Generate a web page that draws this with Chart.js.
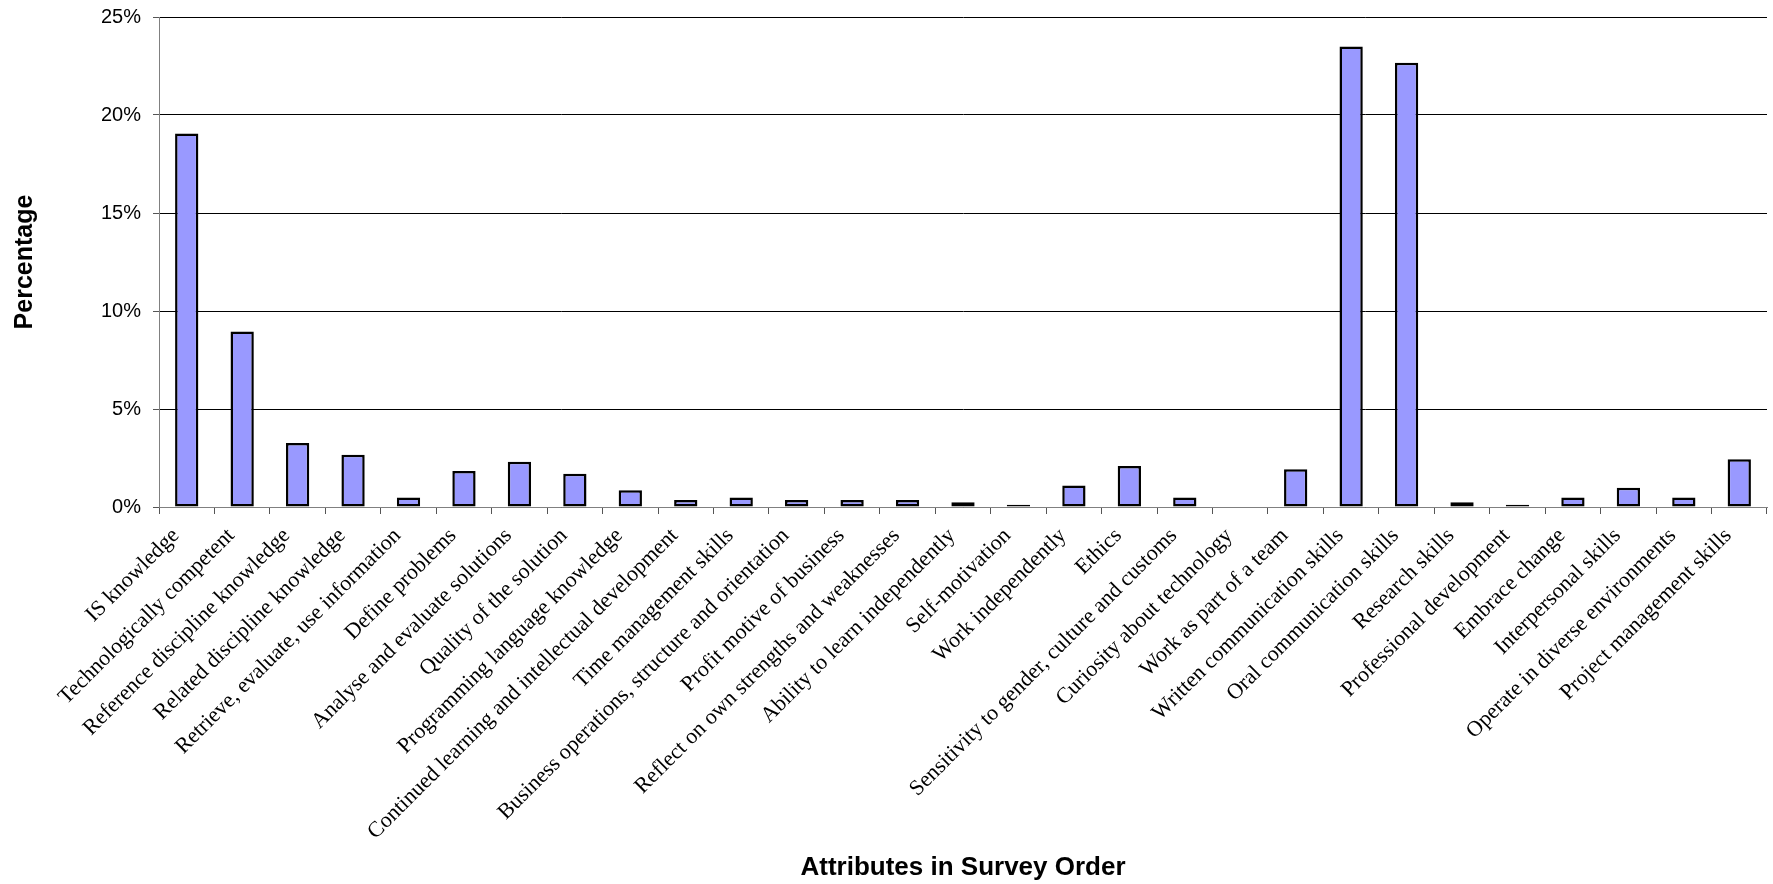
<!DOCTYPE html>
<html>
<head>
<meta charset="utf-8">
<title>Attributes in Survey Order</title>
<script src="https://cdn.jsdelivr.net/npm/chart.js@4/dist/chart.umd.min.js"></script>
<style>
  html, body { margin: 0; padding: 0; background: #ffffff; }
  #wrap { width: 1773px; height: 884px; position: relative; }
</style>
</head>
<body>
<div id="wrap"><canvas id="chart" width="1773" height="884"></canvas></div>
<script>
// Survey attributes, in the order they appear in the survey
const attributes = [
  'IS knowledge',
  'Technologically competent',
  'Reference discipline knowledge',
  'Related discipline knowledge',
  'Retrieve, evaluate, use information',
  'Define problems',
  'Analyse and evaluate solutions',
  'Quality of the solution',
  'Programming language knowledge',
  'Continued learning and intellectual development',
  'Time management skills',
  'Business operations, structure and orientation',
  'Profit motive of business',
  'Reflect on own strengths and weaknesses',
  'Ability to learn independently',
  'Self-motivation',
  'Work independently',
  'Ethics',
  'Sensitivity to gender, culture and customs',
  'Curiosity about technology',
  'Work as part of a team',
  'Written communication skills',
  'Oral communication skills',
  'Research skills',
  'Professional development',
  'Embrace change',
  'Interpersonal skills',
  'Operate in diverse environments',
  'Project management skills'
];

// Share of responses per attribute (%)
const percentages = [
  19.05, 8.96, 3.27, 2.67, 0.48, 1.84, 2.31, 1.70, 0.85, 0.36,
  0.48, 0.36, 0.36, 0.36, 0.24, 0.12, 1.10, 2.09, 0.48, 0.00,
  1.93, 23.50, 22.67, 0.24, 0.12, 0.48, 0.98, 0.48, 2.43
];

// Y axis tick values (%)
const yTicks = [0, 5, 10, 15, 20, 25];

const yTitle = 'Percentage';
const xTitle = 'Attributes in Survey Order';

// Draws the two axis titles
const axisTitles = {
  id: 'axisTitles',
  afterDraw(chart) {
    const { ctx, chartArea } = chart;
    ctx.save();
    ctx.fillStyle = '#000000';
    ctx.textAlign = 'center';
    ctx.textBaseline = 'middle';

    ctx.font = 'bold 25px "Liberation Sans", Arial, sans-serif';
    ctx.translate(25, (chartArea.top + chartArea.bottom) / 2);
    ctx.rotate(-Math.PI / 2);
    ctx.fillText(yTitle, 0, 0);
    ctx.setTransform(1, 0, 0, 1, 0, 0);

    ctx.font = 'bold 26px "Liberation Sans", Arial, sans-serif';
    const cx = (chartArea.left + chartArea.right) / 2;
    ctx.fillText(xTitle, cx, chart.height - 16);
    ctx.restore();
  }
};

new Chart(document.getElementById('chart'), {
  type: 'bar',
  data: {
    labels: attributes,
    datasets: [{
      data: percentages,
      backgroundColor: '#9999ff',
      borderColor: '#000000',
      borderWidth: 2.5,
      borderSkipped: false,
      categoryPercentage: 1.0,
      barPercentage: 0.42
    }]
  },
  options: {
    responsive: false,
    animation: false,
    devicePixelRatio: 1,
    layout: { padding: { top: 17, right: 6, left: 0, bottom: 0 } },
    plugins: {
      legend: { display: false },
      tooltip: { enabled: false },
      title: { display: false }
    },
    scales: {
      x: {
        offset: true,
        grid: {
          offset: true,
          drawOnChartArea: false,
          drawTicks: true,
          tickLength: 7,
          tickColor: '#555555',
          lineWidth: 1
        },
        border: { display: true, color: '#808080', width: 1 },
        ticks: {
          autoSkip: false,
          minRotation: 45,
          maxRotation: 45,
          labelOffset: -11,
          padding: 9,
          color: '#000000',
          font: { family: '"Liberation Serif", "Times New Roman", serif', size: 22 }
        },
        afterFit(scale) { scale.height = 377; }
      },
      y: {
        min: 0,
        max: 25,
        afterBuildTicks(scale) { scale.ticks = yTicks.map(v => ({ value: v })); },
        grid: {
          color: '#000000',
          lineWidth: 1,
          drawTicks: true,
          tickLength: 6,
          tickColor: '#555555'
        },
        border: { display: true, color: '#808080', width: 1 },
        ticks: {
          padding: 12,
          color: '#000000',
          font: { family: '"Liberation Sans", Arial, sans-serif', size: 20 },
          callback: v => v + '%'
        },
        afterFit(scale) {
          scale.width = 159;
          scale.paddingTop = 0;
        }
      }
    }
  },
  plugins: [axisTitles]
});
</script>
</body>
</html>
